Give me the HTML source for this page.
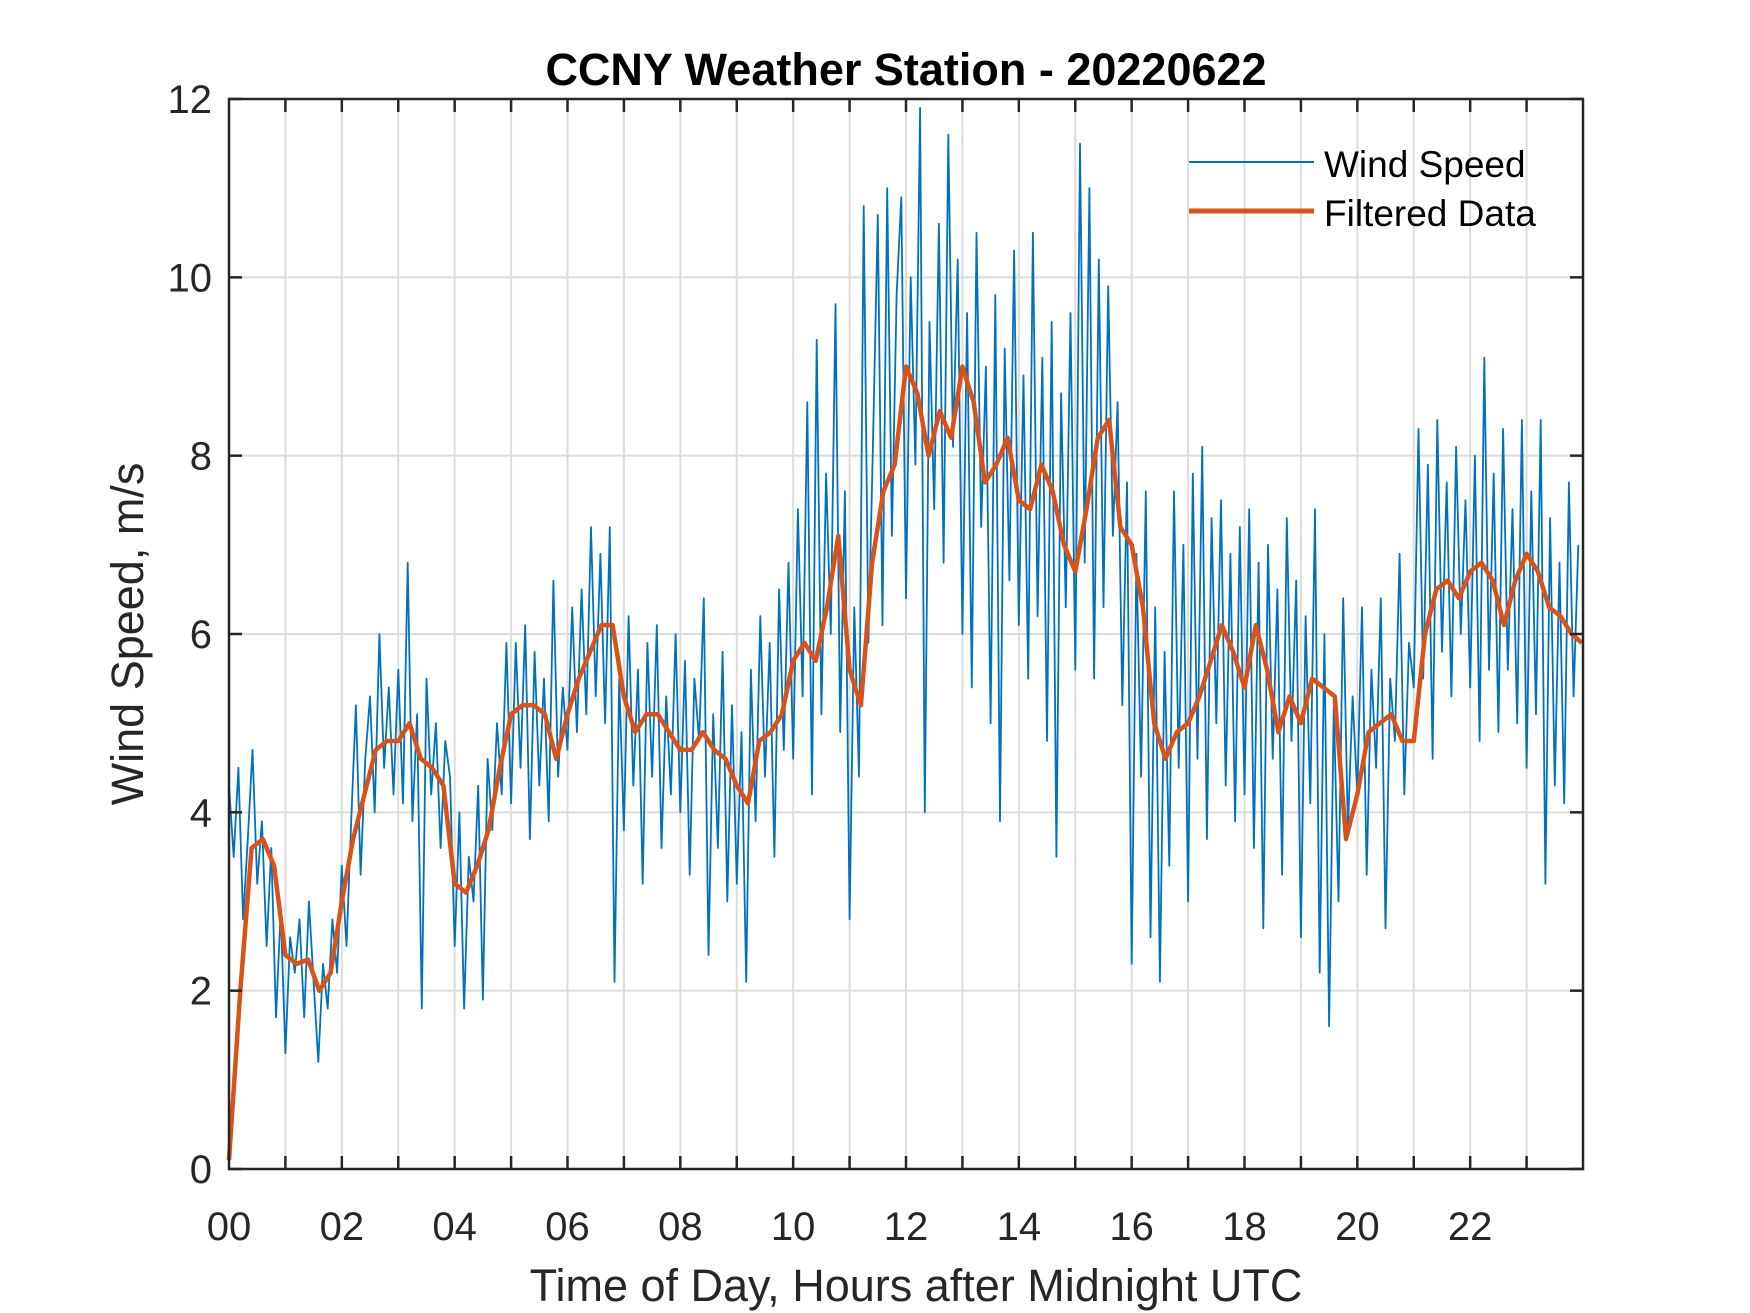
<!DOCTYPE html>
<html><head><meta charset="utf-8"><style>
body{margin:0;background:#fff}
svg{display:block;font-family:"Liberation Sans",Arial,sans-serif}
</style></head><body>
<svg id="chart" width="1750" height="1313" viewBox="0 0 1750 1313" xmlns="http://www.w3.org/2000/svg">
<rect width="1750" height="1313" fill="#fff"/>
<g id="grid"></g>
<g id="series"></g>
<g id="axes"></g>
<text x="906" y="85" text-anchor="middle" font-size="45" font-weight="bold" fill="#000">CCNY Weather Station - 20220622</text>
<text x="916" y="1301" text-anchor="middle" font-size="45" fill="#262626">Time of Day, Hours after Midnight UTC</text>
<text transform="translate(143,634) rotate(-90)" text-anchor="middle" font-size="45" fill="#262626">Wind Speed, m/s</text>
<g>
<line x1="1189" y1="162" x2="1314" y2="162" stroke="#0072BD" stroke-width="2"/>
<text x="1324" y="177" font-size="37" fill="#000">Wind Speed</text>
<line x1="1189" y1="211" x2="1314" y2="211" stroke="#D95319" stroke-width="5"/>
<text x="1324" y="226" font-size="37" fill="#000">Filtered Data</text>
</g>
</svg>
<script>
const windSpeed = [
4.3,3.5,4.5,2.8,3.7,4.7,3.2,3.9,2.5,3.6,1.7,2.9,
1.3,2.6,2.2,2.8,1.7,3.0,2.1,1.2,2.3,1.8,2.8,2.2,
3.4,2.5,3.9,5.2,3.3,4.6,5.3,4.0,6.0,4.5,5.4,4.2,
5.6,4.1,6.8,3.9,5.1,1.8,5.5,4.2,5.0,3.6,4.8,4.4,
2.5,4.0,1.8,3.5,3.0,4.3,1.9,4.6,3.8,5.0,4.2,5.9,
4.1,5.9,4.5,6.1,3.7,5.8,4.3,5.5,3.9,6.6,4.4,5.4,
4.7,6.3,4.9,6.5,5.1,7.2,5.3,6.9,5.0,7.2,2.1,5.5,
3.8,6.2,4.3,5.6,3.2,5.9,4.4,6.1,3.6,5.3,4.2,6.0,
4.0,5.7,3.3,5.5,4.8,6.4,2.4,5.1,3.6,5.8,3.0,5.2,
3.2,4.9,2.1,5.6,3.9,6.2,4.4,5.9,3.5,6.5,4.7,6.8,
4.6,7.4,5.3,8.6,4.2,9.3,5.1,7.8,6.0,9.7,4.9,7.6,
2.8,6.3,4.4,10.8,5.9,8.2,10.7,6.1,11.0,7.1,9.8,10.9,
6.4,10.0,7.9,11.9,4.0,9.5,7.4,10.6,6.8,11.6,8.1,10.2,
6.0,9.6,5.4,10.5,7.2,9.0,5.0,9.8,3.9,9.2,6.6,10.3,
6.1,8.9,5.5,10.5,6.2,9.1,4.8,9.5,3.5,8.7,6.3,9.6,
5.6,11.5,6.8,11.0,5.5,10.2,6.3,9.9,7.1,8.6,5.2,7.7,
2.3,6.9,4.4,7.6,2.6,6.3,2.1,5.8,3.4,7.6,4.5,7.0,
3.0,7.8,4.6,8.1,3.7,7.3,5.0,7.5,4.3,6.9,3.9,7.2,
4.2,7.4,3.6,6.8,2.7,7.0,4.6,6.5,3.3,7.3,4.8,6.6,
2.6,6.2,4.1,7.4,2.2,6.0,1.6,5.2,3.0,6.4,3.8,5.3,
4.2,6.3,3.3,5.6,4.5,6.4,2.7,5.5,4.8,6.9,4.2,5.9,
5.4,8.3,5.5,7.9,4.6,8.4,5.8,7.7,5.3,8.1,6.0,7.5,
5.4,8.0,4.8,9.1,5.6,7.8,4.9,8.3,5.6,7.4,5.0,8.4,
4.5,7.6,5.1,8.4,3.2,7.3,4.3,6.8,4.1,7.7,5.3,7.0
];
const windStepHours = 1/12;
const filtered = [
0.1,2.0,3.6,3.7,3.4,2.4,2.3,2.35,2.0,2.2,
3.0,3.7,4.2,4.7,4.8,4.8,5.0,4.6,4.5,4.3,
3.2,3.1,3.4,3.8,4.5,5.1,5.2,5.2,5.1,4.6,
5.1,5.5,5.8,6.1,6.1,5.3,4.9,5.1,5.1,4.9,
4.7,4.7,4.9,4.7,4.6,4.3,4.1,4.8,4.9,5.1,
5.7,5.9,5.7,6.3,7.1,5.6,5.2,6.8,7.6,7.9,
9.0,8.7,8.0,8.5,8.2,9.0,8.6,7.7,7.9,8.2,
7.5,7.4,7.9,7.6,7.0,6.7,7.4,8.2,8.4,7.2,
7.0,6.3,5.0,4.6,4.9,5.0,5.3,5.7,6.1,5.8,
5.4,6.1,5.6,4.9,5.3,5.0,5.5,5.4,5.3,3.7,
4.2,4.9,5.0,5.1,4.8,4.8,6.0,6.5,6.6,6.4,
6.7,6.8,6.6,6.1,6.6,6.9,6.7,6.3,6.2,6.0,5.9
];
const filteredStepHours = 0.2;
const xTickLabels = ["00","02","04","06","08","10","12","14","16","18","20","22"];
const yTickLabels = ["0","2","4","6","8","10","12"];

const L=229,R=1583,T=99,B=1169;
const xScale=h=>L+h*(R-L)/24;
const yScale=v=>B-v*(B-T)/12;
const NS="http://www.w3.org/2000/svg";
function mk(tag,parent,attrs){const e=document.createElementNS(NS,tag);for(const k in attrs)e.setAttribute(k,attrs[k]);parent.appendChild(e);return e;}
const grid=document.getElementById('grid'),series=document.getElementById('series'),axes=document.getElementById('axes');
for(let h=1;h<24;h++){
  const l=mk('line',grid,{x1:xScale(h),x2:xScale(h),y1:T,y2:B,stroke:'#dcdcdc','stroke-width':2});
  
  
}
yTickLabels.forEach((t,i)=>{
  const v=i*2;if(v===0||v===12)return;
  const l=mk('line',grid,{x1:L,x2:R,y1:yScale(v),y2:yScale(v),stroke:'#dcdcdc','stroke-width':2});
  
  
});
let d='';
windSpeed.forEach((v,i)=>{d+=(i?'L':'M')+xScale(i*windStepHours).toFixed(1)+','+yScale(v).toFixed(1);});
const ws=mk('path',series,{d:d,fill:'none',stroke:'#0072BD','stroke-width':1.8,'stroke-linejoin':'round'});


d='';
filtered.forEach((v,i)=>{d+=(i?'L':'M')+xScale(Math.min(i*filteredStepHours,23.98)).toFixed(1)+','+yScale(v).toFixed(1);});
const fl=mk('path',series,{d:d,fill:'none',stroke:'#D95319','stroke-width':4.5,'stroke-linejoin':'round'});


const box=mk('rect',axes,{x:L,y:T,width:R-L,height:B-T,fill:'none',stroke:'#262626','stroke-width':2.5});


for(let h=1;h<24;h++){
  const x=xScale(h);
  const t1=mk('line',axes,{x1:x,x2:x,y1:B,y2:B-13,stroke:'#262626','stroke-width':2.5});
  
  
  const t2=mk('line',axes,{x1:x,x2:x,y1:T,y2:T+13,stroke:'#262626','stroke-width':2.5});
  
  
}
xTickLabels.forEach((t,i)=>{
  const tx=mk('text',axes,{x:xScale(i*2),y:1240,'text-anchor':'middle','font-size':40,fill:'#262626'});
  tx.textContent=t;
  
  
});
yTickLabels.forEach((t,i)=>{
  const y=yScale(i*2);
  const a=mk('line',axes,{x1:L,x2:L+13,y1:y,y2:y,stroke:'#262626','stroke-width':2.5});
  
  
  const b=mk('line',axes,{x1:R,x2:R-13,y1:y,y2:y,stroke:'#262626','stroke-width':2.5});
  
  
  const tx=mk('text',axes,{x:212,y:y+14,'text-anchor':'end','font-size':40,fill:'#262626'});
  tx.textContent=t;
  
  
});
</script>
</body></html>
